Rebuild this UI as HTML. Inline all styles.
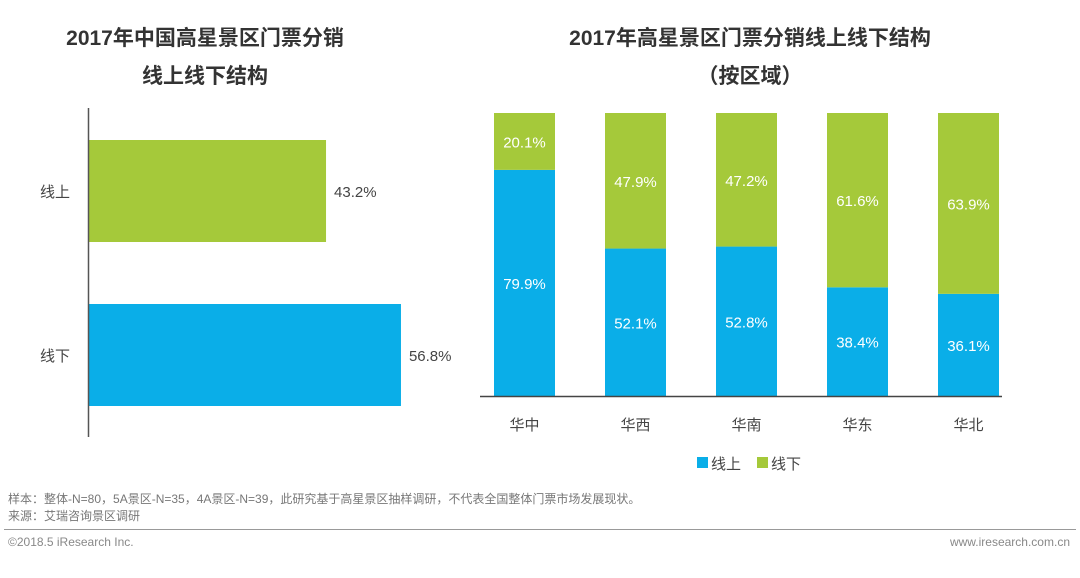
<!DOCTYPE html>
<html><head><meta charset="utf-8"><style>
body{margin:0;width:1080px;height:578px;background:#fff;font-family:"Liberation Sans","Noto Sans CJK SC",sans-serif;position:relative;overflow:hidden}
.t{position:absolute;white-space:nowrap}
svg{position:absolute;left:0;top:0}
</style></head><body>
<div class="t" style="left:0;width:410px;text-align:center;top:20px;font-size:21px;font-weight:bold;color:#333;line-height:38px">2017年中国高星景区门票分销<br>线上线下结构</div>
<div class="t" style="left:480px;width:540px;text-align:center;top:20px;font-size:21px;font-weight:bold;color:#333;line-height:38px">2017年高星景区门票分销线上线下结构<br>（按区域）</div>
<svg width="1080" height="578" id="s"></svg>
<div class="t" style="left:8px;top:490px;font-size:12px;color:#777">样本：整体-N=80，5A景区-N=35，4A景区-N=39，此研究基于高星景区抽样调研，不代表全国整体门票市场发展现状。</div>
<div class="t" style="left:8px;top:507px;font-size:12px;color:#777">来源：艾瑞咨询景区调研</div>
<div style="position:absolute;left:4px;width:1072px;top:529px;height:1px;background:#999"></div>
<div class="t" style="left:8px;top:535px;font-size:12px;color:#888">©2018.5 iResearch Inc.</div>
<div class="t" style="right:10px;top:535px;font-size:12px;color:#888">www.iresearch.com.cn</div>
<script>
const leftCats=["线上","线下"];
const leftVals=[43.2,56.8];
const regions=["华中","华西","华南","华东","华北"];
const onlineVals=[79.9,52.1,52.8,38.4,36.1];
const offlineVals=[20.1,47.9,47.2,61.6,63.9];
const BLUE="#0aaee8",GREEN="#a5c93a";
const s=document.getElementById('s');
const NS="http://www.w3.org/2000/svg";
function el(t,a,txt){const e=document.createElementNS(NS,t);for(const k in a)e.setAttribute(k,a[k]);if(txt!=null)e.textContent=txt;s.appendChild(e);return e;}
const lx=v=>88+v*5.51;
const ly=[140,304],lh=102;
leftCats.forEach((c,i)=>{
 const r=el('rect',{x:88,y:ly[i],width:lx(leftVals[i])-88,height:lh,fill:i?BLUE:GREEN});
 
 
 const t=el('text',{x:lx(leftVals[i])+8,y:ly[i]+lh/2+6,'font-size':15,fill:'#444'},leftVals[i].toFixed(1)+'%');
 
 
 const c2=el('text',{x:70,y:ly[i]+lh/2+6,'font-size':15,fill:'#444','text-anchor':'end'},c);
 
 
});
const la=el('line',{x1:88.5,y1:108,x2:88.5,y2:437,stroke:'#555','stroke-width':1.5});


const plotTop=113,base=396,H=base-plotTop;
const yv=v=>base-v/100*H;
regions.forEach((r,i)=>{
 const x=494+i*111,w=61;
 const yOn=yv(onlineVals[i]);
 const b1=el('rect',{x:x,y:yOn,width:w,height:base-yOn,fill:BLUE});
 
 
 const yOff=yv(onlineVals[i]+offlineVals[i]);
 const b2=el('rect',{x:x,y:yOff,width:w,height:yOn-yOff,fill:GREEN});
 
 
 const t1=el('text',{x:x+w/2,y:(yOn+base)/2+6,'font-size':15,fill:'#fff','text-anchor':'middle'},onlineVals[i].toFixed(1)+'%');
 
 
 const t2=el('text',{x:x+w/2,y:(yOff+yOn)/2+6,'font-size':15,fill:'#fff','text-anchor':'middle'},offlineVals[i].toFixed(1)+'%');
 
 
 const t3=el('text',{x:x+w/2,y:430,'font-size':15,fill:'#444','text-anchor':'middle'},r);
 
 
});
const ra=el('line',{x1:480,y1:396.5,x2:1002,y2:396.5,stroke:'#444','stroke-width':1.5});


const l1=el('rect',{x:697,y:457,width:11,height:11,fill:BLUE});


const l2=el('text',{x:711,y:469,'font-size':15,fill:'#444'},'线上');


const l3=el('rect',{x:757,y:457,width:11,height:11,fill:GREEN});


const l4=el('text',{x:771,y:469,'font-size':15,fill:'#444'},'线下');


</script>
</body></html>
